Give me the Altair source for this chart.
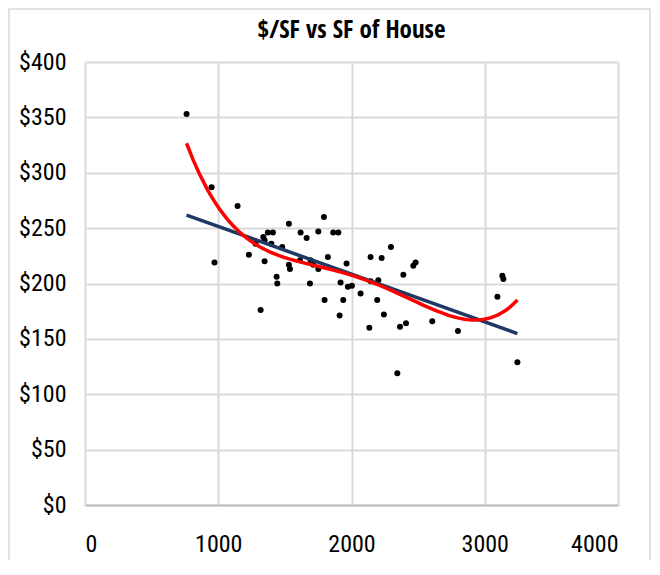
import altair as alt
import pandas as pd

# House size (SF) and price per square foot ($/SF)
sf = [762, 950, 972, 1145, 1230, 1280, 1318, 1338, 1348, 1348, 1372, 1410, 1398,
      1438, 1443, 1480, 1530, 1530, 1538, 1613, 1618, 1663, 1688, 1693, 1713,
      1751, 1751, 1793, 1798, 1823, 1863, 1901, 1911, 1918, 1938, 1963, 1973,
      2003, 2068, 2134, 2143, 2143, 2193, 2201, 2226, 2243, 2296, 2344, 2364,
      2389, 2409, 2464, 2481, 2606, 2799, 3095, 3132, 3140, 3245]
ppsf = [353, 287, 219, 270, 226, 236, 176, 242, 239, 220, 246, 246, 236,
        206, 200, 233, 254, 217, 213, 221, 246, 241, 200, 221, 217,
        213, 247, 260, 185, 224, 246, 246, 171, 201, 185, 218, 197,
        198, 191, 160, 224, 202, 185, 203, 223, 172, 233, 119, 161,
        208, 164, 216, 219, 166, 157, 188, 207, 204, 129]

x_ticks = [0, 1000, 2000, 3000, 4000]
y_ticks = [0, 50, 100, 150, 200, 250, 300, 350, 400]
title_text = ["$/SF vs SF of House"]

df = pd.DataFrame({"sf": sf, "ppsf": ppsf})

FONT = "Roboto Condensed"
TITLE_FONT = "Open Sans Condensed"

xenc = alt.X("sf:Q", scale=alt.Scale(domain=[0, 4000], nice=False),
             axis=alt.Axis(values=x_ticks, title=None, grid=True, gridColor="#d9d9d9",
                           gridWidth=2, ticks=False, domain=True, domainColor="#bfbfbf",
                           domainWidth=2, labelFont=FONT, labelFontSize=24,
                           labelColor="#000000", labelPadding=27, format="d"))
yenc = alt.Y("ppsf:Q", scale=alt.Scale(domain=[0, 400], nice=False),
             axis=alt.Axis(values=y_ticks, title=None, grid=True, gridColor="#d9d9d9",
                           gridWidth=2, ticks=False, domain=False, labelFont=FONT,
                           labelFontSize=24, labelColor="#000000", labelPadding=19,
                           format="$.0f"))

base = alt.Chart(df)

points = base.mark_circle(color="#000000", opacity=1, size=36).encode(x=xenc, y=yenc)

linear = base.transform_regression("sf", "ppsf", method="linear").mark_line(
    color="#203864", strokeWidth=3.5).encode(x=xenc, y=yenc)

poly = base.transform_regression("sf", "ppsf", method="poly", order=4).mark_line(
    color="#ff0000", strokeWidth=3.5).encode(x=xenc, y=yenc)

# light outer frame of the chart area
frame = alt.Chart(pd.DataFrame({"k": [0]})).mark_rect(
    fill=None, stroke="#d9d9d9", strokeWidth=1.5).encode(
    x=alt.value(-76), x2=alt.value(565), y=alt.value(-53), y2=alt.value(510))

# chart title, centred over the plot area
title = alt.Chart(pd.DataFrame({"t": title_text})).mark_text(
    font=TITLE_FONT, fontSize=25, fontWeight="bold", color="#000000",
    align="center", baseline="middle").encode(
    text="t:N", x=alt.value(266.5), y=alt.value(-32))

chart = alt.layer(frame, title, points, linear, poly).properties(
    width=533, height=443,
    autosize=alt.AutoSizeParams(type="none"),
    padding={"left": 77, "top": 54, "right": 33, "bottom": 55},
).configure_view(stroke=None).configure(background="#ffffff")

chart.save("out.html", embed_options={"renderer": "svg", "actions": False})
